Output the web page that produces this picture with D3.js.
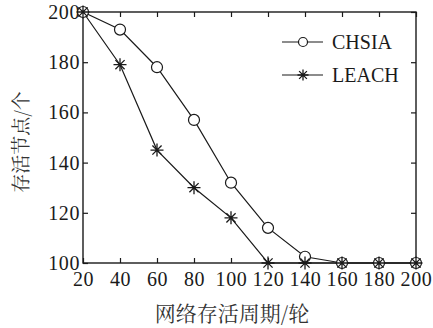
<!DOCTYPE html>
<html><head><meta charset="utf-8">
<script src="https://cdn.jsdelivr.net/npm/d3@7"></script>
<style>body{margin:0;background:#fff}svg{display:block}</style>
</head><body>
<script>
const rounds = [20,40,60,80,100,120,140,160,180,200];
const chsia = [200,193,178,157,132,114,102.5,100,100,100];
const leach = [200,179,145,130,118,100,100,100,100,100];
const xTicks = [20,40,60,80,100,120,140,160,180,200];
const yTicks = [100,120,140,160,180,200];
const seriesNames = ["CHSIA","LEACH"];
const xTitle = "网络存活周期/轮";
const yTitle = "存活节点/个";

const W=433,H=328;
const L=83,R=416,T=12,B=263;
const svg=d3.select("body").append("svg").attr("width",W).attr("height",H);
const x=d3.scaleLinear().domain([20,200]).range([L,R]);
const y=d3.scaleLinear().domain([100,200]).range([B,T]);
const ink="#1a1a1a";
const serif="'Liberation Serif','Times New Roman',serif";

svg.append("rect").attr("x",L).attr("y",T).attr("width",R-L).attr("height",B-T)
  .attr("fill","none").attr("stroke",ink).attr("stroke-width",1.4);

const tl=5;
const axB=svg.append("g").attr("transform",`translate(0,${B})`)
  .call(d3.axisBottom(x).tickValues(xTicks).tickSizeInner(-tl).tickSizeOuter(0).tickPadding(9));
const axT=svg.append("g").attr("transform",`translate(0,${T})`)
  .call(d3.axisTop(x).tickValues(xTicks).tickSizeInner(-tl).tickSizeOuter(0).tickFormat(""));
const axL=svg.append("g").attr("transform",`translate(${L},0)`)
  .call(d3.axisLeft(y).tickValues(yTicks).tickSizeInner(-tl).tickSizeOuter(0).tickPadding(3));
const axR=svg.append("g").attr("transform",`translate(${R},0)`)
  .call(d3.axisRight(y).tickValues(yTicks).tickSizeInner(-tl).tickSizeOuter(0).tickFormat(""));
[axB,axT,axL,axR].forEach(a=>{
  a.attr("font-family",serif).attr("font-size",20);
  a.select(".domain").remove();
  a.selectAll(".tick line").attr("stroke",ink).attr("stroke-width",1.2);
  a.selectAll("text").attr("fill",ink).style("font-family",serif).style("font-size","20px")
   .style("letter-spacing","0.6px");
});
axB.selectAll("text").attr("dy","0.71em");

const line=d3.line().x((d,i)=>x(rounds[i])).y(d=>y(d));
[chsia,leach].forEach(s=>{
  svg.append("path").datum(s).attr("d",line).attr("fill","none").attr("stroke",ink).attr("stroke-width",1.2);
});
function circle(g,cx,cy,r){g.append("circle").attr("cx",cx).attr("cy",cy).attr("r",r)
  .attr("fill","#fff").attr("stroke",ink).attr("stroke-width",1.2);}
function star(g,cx,cy,r){
  const p=d3.path();
  for(let k=0;k<4;k++){const a=k*Math.PI/4+Math.PI/2;
    p.moveTo(cx+r*Math.cos(a),cy+r*Math.sin(a));p.lineTo(cx-r*Math.cos(a),cy-r*Math.sin(a));}
  g.append("path").attr("d",p.toString()).attr("stroke",ink).attr("stroke-width",1.3).attr("fill","none");
}
const gm=svg.append("g");
chsia.forEach((v,i)=>circle(gm,x(rounds[i]),y(v),5.5));
leach.forEach((v,i)=>star(gm,x(rounds[i]),y(v),6.5));

const lg=svg.append("g");
const ly=[42,75];
ly.forEach((yy,i)=>{
  lg.append("line").attr("x1",282).attr("x2",323).attr("y1",yy).attr("y2",yy).attr("stroke",ink).attr("stroke-width",1.2);
  if(i===0) circle(lg,303,yy,4.5); else star(lg,303,yy,5.5);
  lg.append("text").attr("x",332).attr("y",yy).attr("dy","0.35em").text(seriesNames[i])
    .style("font-family",serif).style("font-size","20px").attr("fill",ink);
});

const cjk="'Noto Serif CJK SC','Noto Sans CJK SC',sans-serif";
svg.append("text").attr("x",232).attr("y",314).attr("dy","0.35em").attr("text-anchor","middle")
  .attr("font-family",cjk).attr("font-size",21).attr("fill","#333").text(xTitle);
svg.append("text").attr("transform","translate(21,142) rotate(-90)").attr("dy","0.35em").attr("text-anchor","middle")
  .attr("font-family",cjk).attr("font-size",19).attr("fill","#333").text(yTitle);
</script>
</body></html>
